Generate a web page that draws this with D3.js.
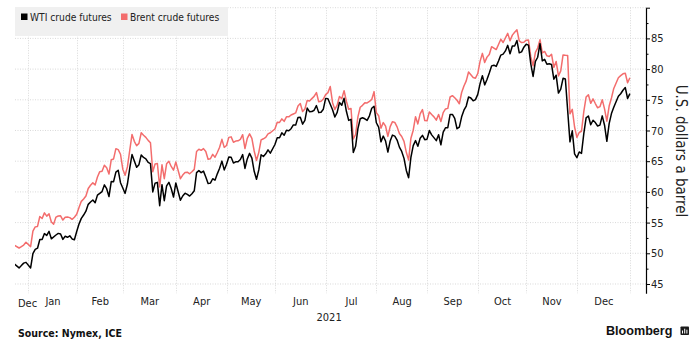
<!DOCTYPE html>
<html><head><meta charset="utf-8">
<script src="https://cdn.jsdelivr.net/npm/d3@7/dist/d3.min.js"></script>
<style>
html,body{margin:0;padding:0;background:#fff;}
svg{display:block;font-family:"DejaVu Sans Condensed","DejaVu Sans",sans-serif;}
</style></head><body>
<svg id="chart" width="700" height="354"></svg>
<script>
// ---- categories ----
const months = ["2020-12","2021-01","2021-02","2021-03","2021-04","2021-05","2021-06",
                "2021-07","2021-08","2021-09","2021-10","2021-11","2021-12","2022-01"];
const monthLabels = ["Dec","Jan","Feb","Mar","Apr","May","Jun","Jul","Aug","Sep","Oct","Nov","Dec"];
const yearLabel = "2021";
const firstDay = "2020-12-21", lastDay = "2022-01-03";
const yTicks = [45,50,55,60,65,70,75,80,85,90];
const yMinor = [47.5,52.5,57.5,62.5,67.5,72.5,77.5,82.5,87.5];
const seriesNames = ["WTI crude futures","Brent crude futures"];

// ---- values: one entry per weekday of each month (null = no settlement) ----
const wti = [
 [47.74,47.02,48.12,48.23,null,47.62,48.00,48.40,48.52],
 [null,47.62,49.93,50.63,50.83,52.24,52.25,53.21,52.91,53.57,52.36,null,52.98,53.24,53.13,52.27,52.77,52.61,52.85,52.34,52.20],
 [53.55,54.76,55.69,56.23,56.85,57.97,58.36,58.68,58.24,59.47,null,60.05,61.14,60.52,59.24,61.70,61.67,63.22,63.53,61.50],
 [60.64,59.75,61.28,63.83,66.09,65.05,64.01,64.44,66.02,65.61,65.39,64.80,64.60,60.00,61.42,61.55,57.76,61.18,58.56,60.97,61.56,60.55,59.16],
 [61.45,null,58.65,59.33,59.77,59.60,59.32,59.70,60.18,63.15,63.46,63.13,63.38,62.44,61.35,61.43,62.14,61.91,62.94,63.86,65.01,63.58],
 [64.49,65.69,65.63,64.71,64.90,64.92,65.28,66.08,63.82,65.37,66.27,65.49,63.36,62.05,63.58,66.05,65.76,66.21,66.85,66.32,null],
 [67.72,68.83,68.81,69.62,69.23,70.05,69.96,70.29,70.91,70.88,72.12,72.15,71.04,71.64,73.66,73.06,73.08,73.30,74.05,72.91,72.98,73.47],
 [75.23,75.16,null,73.37,72.20,72.94,74.56,74.10,75.25,73.13,71.65,71.81,66.42,67.42,70.30,71.91,72.07,71.91,71.65,72.39,73.62,73.95],
 [71.26,70.56,68.15,69.09,68.28,66.48,68.29,69.25,69.09,68.44,67.29,66.59,65.46,63.50,62.32,65.64,67.54,68.36,67.42,68.74,69.21,68.50],
 [68.59,69.99,69.29,null,68.35,69.30,67.68,69.72,70.45,70.46,72.61,72.61,71.97,70.29,70.56,72.23,73.30,73.98,75.45,75.29,74.83,75.03],
 [75.88,77.62,78.93,77.43,78.30,79.35,80.52,80.64,80.44,81.31,82.28,82.44,82.96,83.87,82.50,83.76,83.76,84.65,82.66,82.81,83.57],
 [84.05,83.91,80.86,78.81,81.27,81.93,84.15,81.34,81.59,80.79,80.88,80.76,78.36,79.01,76.10,76.75,78.50,78.39,null,68.15,69.95,66.18],
 [65.57,66.50,66.26,69.49,72.05,72.36,70.94,71.67,71.29,70.73,70.87,72.38,70.86,68.23,71.12,72.76,73.79,null,75.57,75.98,76.56,76.99,75.21],
 [76.0]
];
const brent = [
 [50.91,50.08,51.20,51.29,null,50.86,51.09,51.34,51.80],
 [null,51.09,53.60,54.30,54.38,55.99,55.66,56.58,56.06,56.42,55.10,54.75,55.90,56.08,56.10,55.41,55.88,55.91,55.81,55.53,55.88],
 [56.35,57.46,58.46,58.84,59.34,60.56,61.09,61.47,61.14,62.43,63.30,63.35,64.34,63.93,62.91,65.24,65.37,67.04,66.88,66.13],
 [63.69,62.70,64.07,66.74,69.36,68.24,67.52,67.90,69.63,69.22,68.88,68.39,68.00,63.28,64.53,64.62,60.79,64.41,62.15,64.57,64.98,64.14,63.54],
 [64.86,null,62.15,62.74,63.16,63.20,62.95,63.28,63.67,66.58,66.94,66.77,67.05,66.57,65.32,65.40,66.11,65.65,66.42,67.27,68.56,67.25],
 [67.56,68.88,68.96,68.09,68.28,68.32,68.55,69.32,67.05,68.71,69.46,68.71,66.66,65.11,66.44,68.46,68.65,68.87,69.46,69.63,null],
 [70.25,71.35,71.31,71.89,71.49,72.22,72.22,72.52,72.69,72.86,73.99,74.39,73.08,73.51,74.90,74.81,75.19,75.56,76.18,74.68,74.76,75.13],
 [75.84,76.17,77.16,74.53,73.43,74.12,75.55,75.16,76.49,74.76,73.47,73.59,68.62,69.35,72.23,73.79,74.10,74.50,74.48,74.74,75.05,76.33],
 [72.89,72.41,70.38,71.29,70.70,69.04,70.63,71.44,71.31,70.59,69.51,69.03,68.23,66.45,65.18,68.75,70.05,72.25,71.07,72.70,73.41,71.63],
 [71.59,73.03,72.61,72.22,71.69,72.60,71.45,72.92,73.51,73.60,75.46,75.67,75.34,74.92,74.36,76.19,77.25,78.09,79.53,79.09,78.64,78.52],
 [79.28,81.26,82.56,81.08,81.95,82.39,83.65,83.42,83.18,84.00,84.86,84.33,85.08,85.82,84.61,85.53,85.99,86.40,84.58,84.32,84.38],
 [84.71,84.72,81.99,80.54,82.74,83.43,84.78,82.64,82.87,82.17,82.05,82.43,80.28,81.24,78.89,79.70,82.31,82.25,82.22,72.72,73.44,70.57],
 [68.87,69.67,69.88,73.08,75.44,75.82,74.42,75.15,74.39,73.70,73.88,75.02,73.52,71.52,73.98,75.29,76.85,null,78.60,78.94,79.23,79.32,77.78],
 [78.6]
];

// ---- build weekday calendar ----
const parse = d3.timeParse("%Y-%m-%d"), parseM = d3.timeParse("%Y-%m");
const start = parse(firstDay), end = parse(lastDay);
const allDays = d3.timeDay.range(start, d3.timeDay.offset(end, 1)).filter(d => d.getDay() !== 0 && d.getDay() !== 6);
const jan1 = parse("2021-01-01");
const base = allDays.findIndex(d => +d === +jan1);
const idxOf = d => allDays.findIndex(x => +x === +d) - base;

function buildSeries(byMonth) {
  const out = [];
  months.forEach((m, mi) => {
    const ms = parseM(m), me = d3.timeMonth.offset(ms, 1);
    const days = allDays.filter(d => d >= ms && d < me);
    if (days.length !== byMonth[mi].length) console.error("count mismatch", m, days.length, byMonth[mi].length);
    days.forEach((d, i) => { const v = byMonth[mi][i]; if (v != null) out.push({i: idxOf(d), v}); });
  });
  return out;
}
const wtiData = buildSeries(wti), brentData = buildSeries(brent);

// month boundaries (index of first weekday of each month)
const monthStarts = months.map(m => {
  const ms = parseM(m);
  const d = allDays.find(x => x >= ms);
  return d ? idxOf(d) : null;
});
// index of Jan 2022 first weekday
const endIdx = monthStarts[months.length - 1];

// ---- layout ----
const svg = d3.select("#chart");
const plotL = 15, plotR = 646, plotT = 7.7, plotB = 293.2;
const x = d3.scaleLinear().domain([0, endIdx]).range([28.3, 629.9]);
const y = d3.scaleLinear().domain([43.5, 90]).range([plotB, plotT]);

svg.append("defs").append("clipPath").attr("id", "clip")
  .append("rect").attr("x", plotL).attr("y", 0).attr("width", plotR - plotL).attr("height", plotB);

// gridlines
const grid = svg.append("g").attr("stroke", "#cfcfcf").attr("stroke-width", 0.8).attr("stroke-dasharray", "1,1.5");
grid.selectAll("line.h").data(yTicks).join("line")
  .attr("x1", plotL).attr("x2", plotR).attr("y1", d => y(d)).attr("y2", d => y(d));
grid.selectAll("line.v").data(monthStarts.slice(1)).join("line")
  .attr("x1", d => Math.round(x(d)) + 0.5).attr("x2", d => Math.round(x(d)) + 0.5).attr("y1", plotT).attr("y2", plotB);

// legend
const lg = svg.append("g");
lg.append("rect").attr("x", 15).attr("y", 7).attr("width", 213).attr("height", 29).attr("fill", "#f0f0f0");
const legendItems = [{name: seriesNames[0], color: "#000", x: 21}, {name: seriesNames[1], color: "#f36d6d", x: 121}];
legendItems.forEach(it => {
  lg.append("rect").attr("x", it.x).attr("y", 13.5).attr("width", 6.5).attr("height", 6.5).attr("fill", it.color);
  lg.append("text").attr("x", it.x + 9).attr("y", 20.5).attr("font-size", 10.2).attr("fill", "#222").text(it.name);
});

// lines
const line = d3.line().x(d => x(d.i)).y(d => y(d.v));
const lines = svg.append("g").attr("clip-path", "url(#clip)").attr("fill", "none").attr("stroke-width", 1.5).attr("stroke-linejoin", "round");
lines.append("path").datum(brentData).attr("stroke", "#f36d6d").attr("d", line);
lines.append("path").datum(wtiData).attr("stroke", "#000").attr("d", line);

// y axis (right)
const yAxis = d3.axisRight(y).tickValues(yTicks).tickSize(4).tickSizeOuter(0).tickPadding(1)
  .tickFormat(d => d === 90 ? "" : d3.format("d")(d));
const ya = svg.append("g").attr("transform", `translate(${plotR},0)`).call(yAxis);
ya.select(".domain").attr("stroke", "#000").attr("stroke-width", 1.2);
ya.selectAll(".tick line").attr("stroke", "#000");
ya.selectAll(".tick text").attr("font-size", 11).attr("fill", "#222")
  .attr("font-family", '"DejaVu Sans Condensed","DejaVu Sans",sans-serif');
const yMinorAxis = d3.axisRight(y).tickValues(yMinor).tickSize(2.5).tickFormat("");
const ym = svg.append("g").attr("transform", `translate(${plotR},0)`).call(yMinorAxis);
ym.select(".domain").remove();
ym.selectAll(".tick line").attr("stroke", "#000");

svg.append("text").attr("transform", "translate(676,151) rotate(90)")
  .attr("text-anchor", "middle").attr("font-size", 15).attr("fill", "#222").text("U.S. dollars a barrel");

// x axis labels (months centred in their span)
const mids = monthStarts.slice(1, -1).map((s, k) => (s + monthStarts[k + 2]) / 2);
const xAxis = d3.axisBottom(x).tickValues(mids).tickSize(0).tickPadding(0)
  .tickFormat((d, k) => monthLabels[k + 1]);
const xa = svg.append("g").attr("transform", "translate(0,297)").call(xAxis);
xa.select(".domain").remove();
xa.selectAll(".tick text").attr("font-size", 11).attr("fill", "#222").attr("dy", "0.71em")
  .attr("font-family", '"DejaVu Sans Condensed","DejaVu Sans",sans-serif');
// partial first month label
svg.append("text").attr("x", 18).attr("y", 307).attr("font-size", 11).attr("fill", "#222").text(monthLabels[0]);
svg.append("text").attr("x", x((monthStarts[1] + endIdx) / 2)).attr("y", 320.5).attr("text-anchor", "middle")
  .attr("font-size", 11).attr("fill", "#222").text(yearLabel);

// footer
svg.append("text").attr("x", 18).attr("y", 336.5).attr("font-size", 10.5).attr("font-weight", "bold")
  .attr("fill", "#111").text("Source: Nymex, ICE");
svg.append("text").attr("x", 606).attr("y", 334.5).attr("font-size", 12.6).attr("font-weight", "bold")
  .attr("font-family", '"Liberation Sans",Arial,sans-serif').attr("fill", "#111").text("Bloomberg");
const ic = svg.append("g").attr("transform", "translate(680.5,326.5)");
ic.append("rect").attr("width", 8.5).attr("height", 8.5).attr("fill", "#1a1a1a").attr("rx", 0.8);
[[2, 4], [4.2, 2.2], [6.4, 3.2]].forEach(([cx, top]) =>
  ic.append("line").attr("x1", cx).attr("x2", cx).attr("y1", top).attr("y2", 7).attr("stroke", "#fff").attr("stroke-width", 1));
</script>
</body></html>
